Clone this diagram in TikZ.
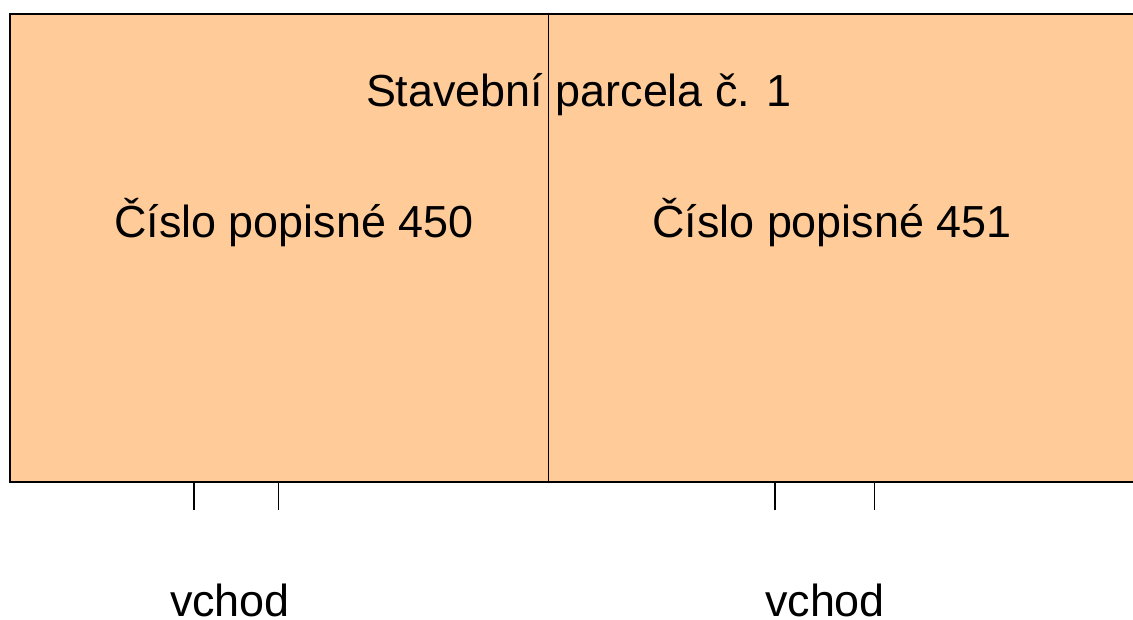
\documentclass[tikz,border=0pt]{standalone}
\usepackage{fontspec}
\setmainfont{Liberation Sans}
\definecolor{plotfill}{HTML}{FFCC99}
\begin{document}
\begin{tikzpicture}[x=1pt,y=-1pt,
  label/.style={font=\fontsize{44.9}{54}\selectfont, inner sep=0pt, anchor=base},
  edge/.style={line width=1.3pt, black},
  thin edge/.style={line width=1.1pt, black}]
\useasboundingbox (0,0) rectangle (1133,619);
% building plot
\fill[plotfill] (10,14) rectangle (1133,482);
\draw[edge] (1133,14) -- (10,14) -- (10,482) -- (1133,482);
% party wall between the two houses
\coordinate (wallTop) at (548.5,14);
\coordinate (wallBot) at (548.5,482);
\draw[thin edge] (wallTop) -- (wallBot);
% labels
\node[label] (parcel) at (579,106) {Stavební parcela č. 1};
\node[label] (h450) at (294,237) {Číslo popisné 450};
\node[label] (h451) at (832,237) {Číslo popisné 451};
% entrances
\foreach \x/\n in {194/a,278.5/b,775/c,874.5/d}{
  \coordinate (t\n) at (\x,482);
  \coordinate (b\n) at (\x,510);
  \draw[thin edge] (t\n) -- (b\n);
}
\node[label] (v1) at (230,616) {vchod};
\node[label] (v2) at (825,616) {vchod};
\end{tikzpicture}
\end{document}
